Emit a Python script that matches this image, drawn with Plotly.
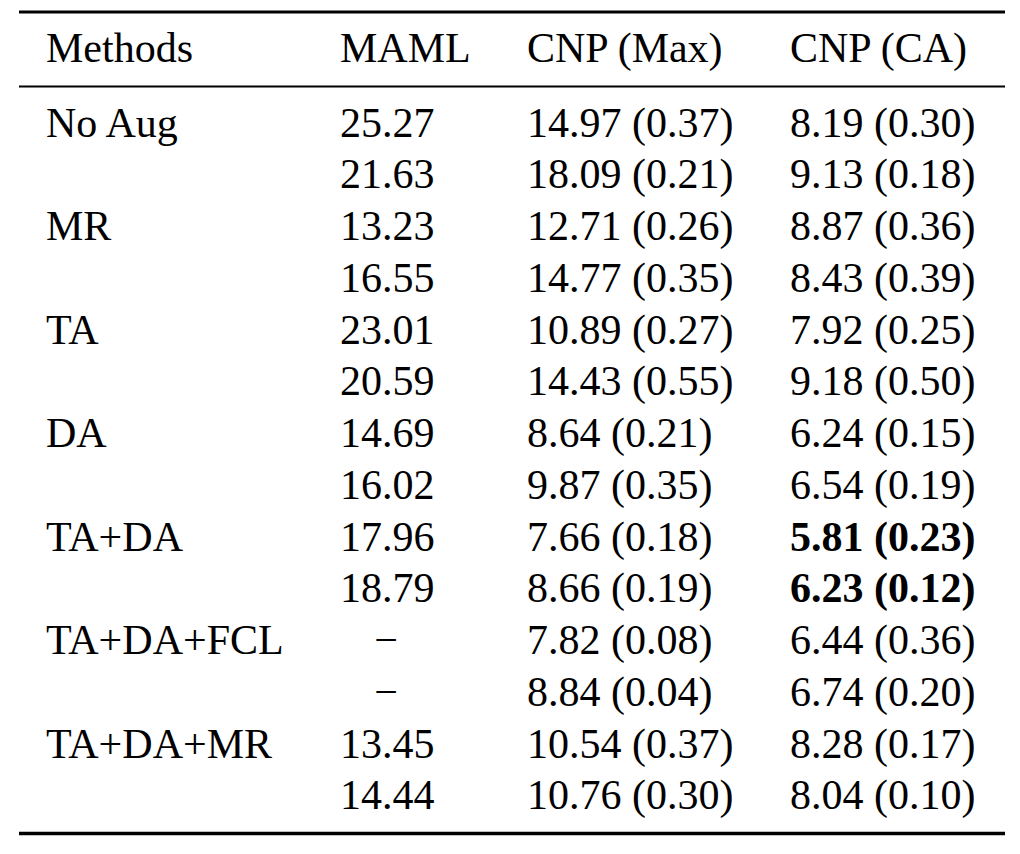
import plotly.graph_objects as go

# ---- data ----
headers = ["Methods", "MAML", "CNP (Max)", "CNP (CA)"]
methods = ["No Aug", "", "MR", "", "TA", "", "DA", "", "TA+DA", "",
           "TA+DA+FCL", "", "TA+DA+MR", ""]
maml = ["25.27", "21.63", "13.23", "16.55", "23.01", "20.59", "14.69", "16.02",
        "17.96", "18.79", "−", "−", "13.45", "14.44"]
cnp_max = ["14.97 (0.37)", "18.09 (0.21)", "12.71 (0.26)", "14.77 (0.35)",
           "10.89 (0.27)", "14.43 (0.55)", "8.64 (0.21)", "9.87 (0.35)",
           "7.66 (0.18)", "8.66 (0.19)", "7.82 (0.08)", "8.84 (0.04)",
           "10.54 (0.37)", "10.76 (0.30)"]
cnp_ca = ["8.19 (0.30)", "9.13 (0.18)", "8.87 (0.36)", "8.43 (0.39)",
          "7.92 (0.25)", "9.18 (0.50)", "6.24 (0.15)", "6.54 (0.19)",
          "5.81 (0.23)", "6.23 (0.12)", "6.44 (0.36)", "6.74 (0.20)",
          "8.28 (0.17)", "8.04 (0.10)"]
bold_ca = [False] * 8 + [True, True] + [False] * 4

# ---- layout geometry (page pixels; the page body adds an 8px margin) ----
W, H = 1020, 854
OFF = 8
ROW0_PAGE, ROW_STEP = 126, 51.75
HEADER_PAGE = 51.5
DASH = "−"


def page_y_to_row(p):
    return 1 + (p - ROW0_PAGE) / ROW_STEP


def px_x(p):
    return p - OFF


col_x = [px_x(v) for v in (46, 340, 527, 790)]
dash_x = px_x(386)
FONT = dict(family="Liberation Serif, Times New Roman, serif", size=42, color="black")

rows = list(range(1, len(methods) + 1))
header_row = page_y_to_row(HEADER_PAGE)

fig = go.Figure()


def add_col(xs, ys, texts, pos="middle right"):
    fig.add_trace(go.Scatter(x=xs, y=ys, text=texts, mode="text",
                             textposition=pos, textfont=FONT,
                             hoverinfo="skip", showlegend=False))


# header
add_col(col_x, [header_row] * 4, headers)
# methods column
add_col([col_x[0]] * len(rows), rows, methods)
# MAML column (numbers left aligned, dashes centred)
num_rows = [r for r, v in zip(rows, maml) if v != DASH]
num_vals = [v for v in maml if v != DASH]
dash_rows = [r for r, v in zip(rows, maml) if v == DASH]
add_col([col_x[1]] * len(num_rows), num_rows, num_vals)
add_col([dash_x] * len(dash_rows), dash_rows, [DASH] * len(dash_rows), "middle center")
# CNP (Max)
add_col([col_x[2]] * len(rows), rows, cnp_max)
# CNP (CA)
ca_text = [f"<b>{v}</b>" if b else v for v, b in zip(cnp_ca, bold_ca)]
add_col([col_x[3]] * len(rows), rows, ca_text)

# booktabs rules (page y, width)
rules = [(12, 3), (86.5, 2), (833.5, 3.5)]
for p, w in rules:
    yy = page_y_to_row(p)
    fig.add_shape(type="line", xref="x", yref="y", x0=px_x(19), x1=px_x(1005),
                  y0=yy, y1=yy, line=dict(color="black", width=w))

fig.update_layout(
    width=W, height=H, margin=dict(l=0, r=0, t=0, b=0),
    paper_bgcolor="white", plot_bgcolor="white",
    xaxis=dict(range=[0, W], visible=False, fixedrange=True),
    yaxis=dict(range=[page_y_to_row(H + OFF), page_y_to_row(OFF)],
               visible=False, fixedrange=True),
)

fig.write_html("out.html")
